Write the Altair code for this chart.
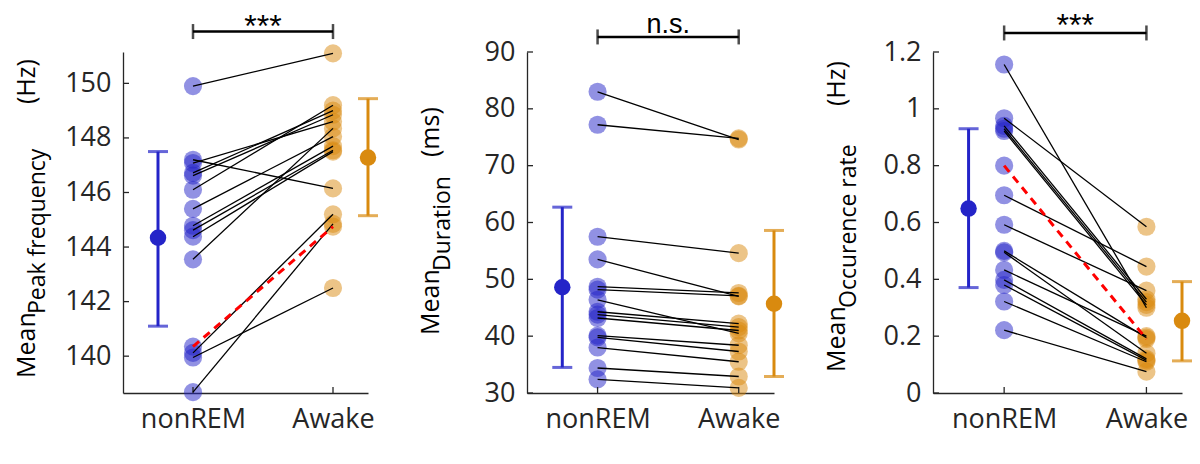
import altair as alt
import pandas as pd

# ---------------- data ----------------
CATS = ["nonREM", "Awake"]

# Panel 1: mean peak frequency (Hz)
pf_nrem  = [149.90, 147.20, 147.08, 146.72, 146.62, 146.10, 145.40, 144.78, 144.62, 144.38, 143.55, 140.12, 139.95, 138.68, 140.35]
pf_awake = [151.10, 146.15, 148.60, 149.00, 148.85, 149.20, 148.05, 147.70, 147.55, 147.50, 148.35, 145.20, 142.50, 144.85, 144.75]
pf_red = 14
pf_mean = [144.34, 147.28]
pf_low = [141.10, 145.15]
pf_high = [147.50, 149.44]
pf_ticks = [140, 142, 144, 146, 148, 150]
pf_sig = 151.9
pf_sig_text = "***"

# Panel 2: mean duration (ms)
du_nrem  = [83.0, 77.2, 57.5, 53.5, 48.7, 48.2, 46.4, 44.3, 43.8, 43.2, 40.1, 39.8, 38.0, 34.4, 32.4]
du_awake = [74.6, 74.8, 54.6, 47.0, 47.6, 47.1, 40.5, 42.2, 41.6, 41.0, 38.4, 37.3, 35.5, 32.9, 30.9]
du_red = None
du_mean = [48.6, 45.7]
du_low = [34.5, 32.9]
du_high = [62.7, 58.6]
du_ticks = [30, 40, 50, 60, 70, 80, 90]
du_sig = 92.65
du_sig_text = "n.s."

# Panel 3: mean occurrence rate (Hz)
oc_nrem  = [1.156, 0.967, 0.940, 0.930, 0.922, 0.800, 0.696, 0.592, 0.500, 0.495, 0.433, 0.398, 0.380, 0.322, 0.221]
oc_awake = [0.300, 0.585, 0.330, 0.320, 0.310, 0.190, 0.445, 0.360, 0.195, 0.140, 0.200, 0.120, 0.115, 0.110, 0.075]
oc_red = 5
oc_mean = [0.649, 0.254]
oc_low = [0.371, 0.113]
oc_high = [0.930, 0.392]
oc_ticks = [0, 0.2, 0.4, 0.6, 0.8, 1.0, 1.2]
oc_sig = 1.267
oc_sig_text = "***"

TITLES = [
    ["Mean", "Peak frequency", "(Hz)"],
    ["Mean", "Duration", "(ms)"],
    ["Mean", "Occurence rate", "(Hz)"],
]

# ---------------- style ----------------
FONT = "Open Sans"
SIG_FONT = "Liberation Sans"
BLUE = "#2424C8"
ORANGE = "#D98A0F"
AX = "#262626"
XDOM = [0.5, 2.25]
ERR_X = [0.75, 2.25]
H = 341


def panel(nrem, awake, red, mean, low, high, ticks, ydom, fmt, sig, sig_text, sig_dy, sig_size,
          title, tpos, width, anchors=()):
    xs = alt.Scale(domain=XDOM, nice=False, zero=False)
    ys = alt.Scale(domain=ydom, nice=False, zero=False)
    label_expr = f"datum.value == 1 ? '{CATS[0]}' : '{CATS[1]}'"
    xaxis = alt.Axis(values=[1, 2], labelExpr=label_expr, ticks=False, grid=False,
                     labelPadding=13, labelFlush=False, labelOverlap=False)
    yaxis = alt.Axis(values=ticks, format=fmt, ticks=False, grid=False,
                     labelPadding=12, labelFlush=False, labelOverlap=False)

    def X(f="x"):
        return alt.X(f"{f}:Q", scale=xs, axis=xaxis, title=None)

    def Y(f="y"):
        return alt.Y(f"{f}:Q", scale=ys, axis=yaxis, title=None)

    n = len(nrem)
    rows = []
    for i in range(n):
        rows.append({"pid": i, "x": 1, "y": nrem[i], "red": i == red})
        rows.append({"pid": i, "x": 2, "y": awake[i], "red": i == red})
    df = pd.DataFrame(rows)

    dots_n = alt.Chart(df[df.x == 1]).mark_circle(size=330, opacity=0.5, color=BLUE).encode(
        x=X(), y=Y())
    dots_a = alt.Chart(df[df.x == 2]).mark_circle(size=330, opacity=0.5, color=ORANGE).encode(
        x=X(), y=Y())

    ytick = alt.Chart(pd.DataFrame({"y": ticks})).mark_rule(color=AX, strokeWidth=1.3).encode(
        x=alt.value(0), x2=alt.value(6), y=Y())
    xtick = alt.Chart(pd.DataFrame({"x": [1, 2]})).mark_rule(color=AX, strokeWidth=1.3).encode(
        x=X(), y=alt.value(H), y2=alt.value(H - 6))

    lines = alt.Chart(df[~df.red]).mark_line(color="black", strokeWidth=1.3).encode(
        x=X(), y=Y(), detail="pid:N")
    layers = [dots_n, dots_a, ytick, xtick, lines]
    if red is not None:
        redl = alt.Chart(df[df.red]).mark_line(color="#FF0000", strokeWidth=3,
                                               strokeDash=[8, 6]).encode(
            x=X(), y=Y(), detail="pid:N")
        layers.append(redl)

    edf = pd.DataFrame({"x": ERR_X, "m": mean, "lo": low, "hi": high, "c": CATS})
    col = alt.Color("c:N", scale=alt.Scale(domain=CATS, range=[BLUE, ORANGE]), legend=None)
    err = alt.Chart(edf).mark_rule(strokeWidth=3).encode(x=X(), y=Y("lo"), y2="hi:Q", color=col)
    cap_lo = alt.Chart(edf).mark_tick(orient="horizontal", size=20, thickness=3).encode(
        x=X(), y=Y("lo"), color=col)
    cap_hi = alt.Chart(edf).mark_tick(orient="horizontal", size=20, thickness=3).encode(
        x=X(), y=Y("hi"), color=col)
    mdot = alt.Chart(edf).mark_circle(size=270, opacity=1).encode(x=X(), y=Y("m"), color=col)
    layers += [err, cap_lo, cap_hi, mdot]

    sdf = pd.DataFrame({"x": [1], "x2": [2], "y": [sig]})
    sbar = alt.Chart(sdf).mark_rule(color="black", strokeWidth=2.5).encode(
        x=X(), x2="x2:Q", y=Y())
    scap = alt.Chart(pd.DataFrame({"x": [1, 2], "y": [sig, sig]})).mark_tick(
        orient="vertical", size=15, thickness=2.5, color="black").encode(x=X(), y=Y())
    stext = alt.Chart(pd.DataFrame({"x": [1.5], "y": [sig], "t": [sig_text]})).mark_text(
        font=SIG_FONT, fontSize=sig_size, align="center", baseline="alphabetic", dy=sig_dy,
        color="black").encode(x=X(), y=Y(), text="t:N")
    layers += [sbar, scap, stext]

    sizes = [25, 23, 25]
    for k in range(3):
        bx, by = tpos[k]
        t = alt.Chart(pd.DataFrame({"t": [title[k]]})).mark_text(
            font=FONT, fontSize=sizes[k], angle=270, align="left", baseline="alphabetic",
            color="black").encode(x=alt.value(bx), y=alt.value(by), text="t:N")
        layers.append(t)

    for (ax, ay) in anchors:
        a = alt.Chart(pd.DataFrame({"a": [0]})).mark_rule(opacity=0, strokeOpacity=0).encode(
            x=alt.value(ax), x2=alt.value(ax), y=alt.value(ay), y2=alt.value(ay + 4))
        layers.append(a)

    return alt.layer(*layers).properties(width=width, height=H)


p1 = panel(pf_nrem, pf_awake, pf_red, pf_mean, pf_low, pf_high, pf_ticks, [138.65, 151.15], "d",
           pf_sig, pf_sig_text, 5, 32, TITLES[0], [(-88, 326), (-78, 262), (-88, 52)], 245,
           anchors=[(-115, -44)])
p2 = panel(du_nrem, du_awake, du_red, du_mean, du_low, du_high, du_ticks, [30, 90], "d",
           du_sig, du_sig_text, -4, 27, TITLES[1], [(-88, 283), (-77, 219), (-88, 105)], 247)
p3 = panel(oc_nrem, oc_awake, oc_red, oc_mean, oc_low, oc_high, oc_ticks, [0, 1.2], "~g",
           oc_sig, oc_sig_text, 3.5, 32, TITLES[2], [(-88, 320), (-77, 256), (-88, 54)], 249,
           anchors=[(258, H + 58)])

chart = alt.hconcat(p1, p2, p3, spacing=159, bounds="flush").properties(padding=0).configure_view(
    stroke=None
).configure_axis(
    labelFont=FONT, labelFontSize=27, labelColor=AX, domainColor=AX, domainWidth=1.3,
).configure_text(font=FONT)

chart.save("out.html", embed_options={"renderer": "svg", "actions": False})
